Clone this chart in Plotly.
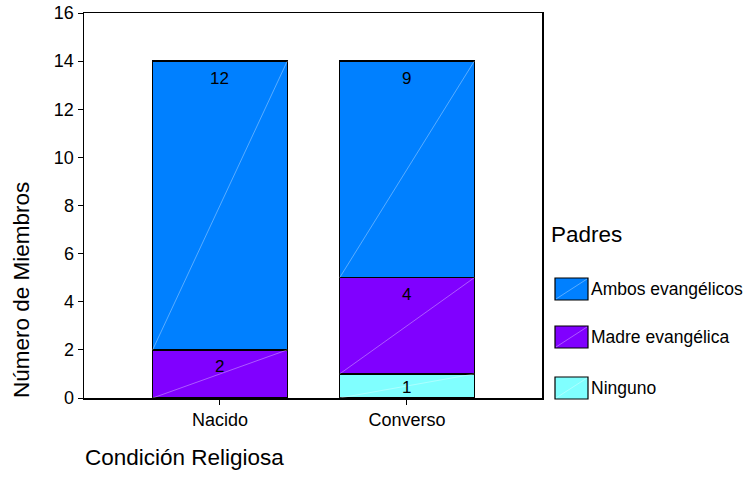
import plotly.graph_objects as go

categories = ["Nacido", "Converso"]
series_names = ["Ninguno", "Madre evangélica", "Ambos evangélicos"]
ninguno = [0, 1]
madre = [2, 4]
ambos = [12, 9]
colors = ["#80FFFF", "#8000FF", "#0080FF"]
y_ticks = [0, 2, 4, 6, 8, 10, 12, 14, 16]

FONT = "Liberation Sans, Arial, sans-serif"
series = [ninguno, madre, ambos]
xs = list(range(len(categories)))
bar_w = 0.72

fig = go.Figure()
for name, vals, col in zip(series_names, series, colors):
    fig.add_trace(go.Bar(
        x=xs, y=[v if v > 0 else None for v in vals], name=name, width=bar_w,
        marker=dict(color=col, line=dict(color="black", width=1.5)),
        showlegend=False, hoverinfo="skip",
    ))

# faint diagonal lines inside each segment and value labels
px_per_unit = 385 / 16
annotations = []
for i in xs:
    base = 0
    for vals in series:
        v = vals[i]
        if v > 0:
            top = base + v
            fig.add_trace(go.Scatter(
                x=[i - bar_w / 2, i + bar_w / 2], y=[base, top], mode="lines",
                line=dict(color="rgba(255,255,255,0.35)", width=1),
                showlegend=False, hoverinfo="skip",
            ))
            h = v * px_per_unit
            annotations.append(dict(
                x=i, y=top, xref="x", yref="y", text=str(v), showarrow=False,
                yanchor="middle", yshift=-min(17, h / 2 + 2),
                font=dict(family=FONT, size=17, color="black"),
            ))
            base = top

# manual legend (positions relative to plot area: left=84, bottom=398, 458x385)
def px_x(p):
    return (p - 84) / 458

def px_y(p):
    return (398 - p) / 385

shapes = []
annotations.append(dict(
    x=px_x(549), y=px_y(234), xref="paper", yref="paper", text="Padres",
    showarrow=False, xanchor="left", yanchor="middle",
    font=dict(family=FONT, size=22.5, color="black"),
))
legend_rows = [(series_names[2], colors[2], 289), (series_names[1], colors[1], 337), (series_names[0], colors[0], 388)]
for name, col, cy in legend_rows:
    shapes.append(dict(type="rect", xref="paper", yref="paper",
                       x0=px_x(555), x1=px_x(588), y0=px_y(cy + 11), y1=px_y(cy - 11),
                       fillcolor=col, line=dict(color="black", width=1.2)))
    shapes.append(dict(type="line", xref="paper", yref="paper",
                       x0=px_x(556), x1=px_x(587), y0=px_y(cy + 10), y1=px_y(cy - 10),
                       line=dict(color="rgba(255,255,255,0.35)", width=1)))
    annotations.append(dict(
        x=px_x(589), y=px_y(cy), xref="paper", yref="paper", text=name,
        showarrow=False, xanchor="left", yanchor="middle",
        font=dict(family=FONT, size=17.5, color="black"),
    ))

# axis titles
annotations.append(dict(
    x=px_x(83), y=px_y(457), xref="paper", yref="paper", text="Condición Religiosa",
    showarrow=False, xanchor="left", yanchor="middle",
    font=dict(family=FONT, size=22.5, color="black"),
))
annotations.append(dict(
    x=px_x(21), y=px_y(290), xref="paper", yref="paper", text="Número de Miembros",
    showarrow=False, xanchor="center", yanchor="middle", textangle=-90,
    font=dict(family=FONT, size=22.5, color="black"),
))

fig.update_layout(
    width=750, height=488,
    margin=dict(l=84, r=208, t=13, b=90, autoexpand=False),
    barmode="stack",
    plot_bgcolor="white", paper_bgcolor="white",
    font=dict(family=FONT, size=18, color="black"),
    shapes=shapes, annotations=annotations,
    showlegend=False,
)
fig.update_xaxes(
    range=[-0.727, 1.722], tickvals=xs, ticktext=categories, automargin=False,
    showline=True, linecolor="black", linewidth=1.5, mirror=True,
    ticks="outside", ticklen=5, tickcolor="black", showgrid=False, zeroline=False,
    tickfont=dict(family=FONT, size=18), ticklabeloverflow="allow",
)
fig.update_yaxes(
    range=[0, 16], tickvals=y_ticks, automargin=False,
    showline=True, linecolor="black", linewidth=1.5, mirror=True,
    ticks="outside", ticklen=5, tickcolor="black", showgrid=False, zeroline=False,
    tickfont=dict(family=FONT, size=18), ticklabeloverflow="allow",
)

fig.write_html(
    "out.html",
    config={"displayModeBar": False, "staticPlot": True},
    post_script="document.body.style.margin='0';document.body.style.overflow='hidden';",
)
